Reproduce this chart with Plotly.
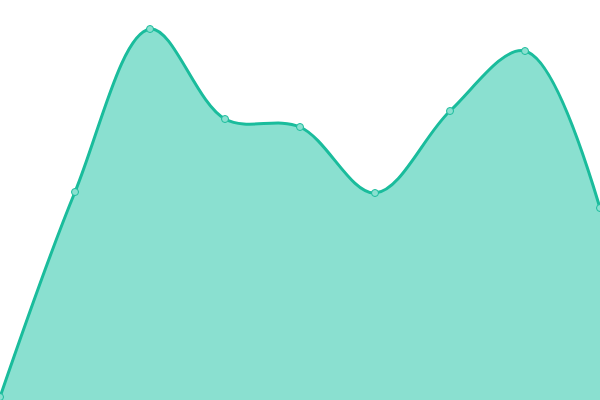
import plotly.graph_objects as go

x_vals = [0, 1, 2, 3, 4, 5, 6, 7, 8]
y_vals = [3, 208, 371, 281, 273, 207, 289, 349, 192]

fig = go.Figure()
fig.add_trace(go.Scatter(
    x=x_vals, y=y_vals,
    mode="lines+markers",
    line=dict(color="#1abc9c", width=3, shape="spline", smoothing=1.0),
    marker=dict(size=7, color="#8ae0d0", line=dict(color="#1abc9c", width=1)),
    fill="tozeroy",
    fillcolor="#8ae0d0",
    hoverinfo="skip",
))
fig.update_layout(
    width=600, height=400,
    margin=dict(l=0, r=0, t=0, b=0),
    paper_bgcolor="white", plot_bgcolor="white",
    showlegend=False,
    xaxis=dict(visible=False, range=[0, 8]),
    yaxis=dict(visible=False, range=[0, 400]),
)
fig.write_html("out.html", config={"displayModeBar": False},
               post_script="document.body.style.margin='0';document.body.style.overflow='hidden';")
